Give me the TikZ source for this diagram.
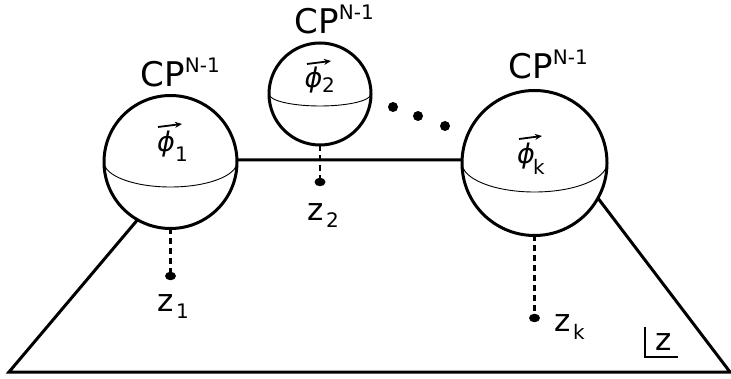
\documentclass[tikz,border=0pt]{standalone}
\usepackage{fontspec}
\setmainfont{DejaVu Sans}
\usetikzlibrary{shapes.geometric,arrows.meta}
\begin{document}
\begin{tikzpicture}[x=1pt,y=-1pt,
  sphere/.style={circle,draw,fill=white,line width=3pt,inner sep=0pt,outer sep=0pt},
  plane/.style={line width=3pt,line join=miter},
  equator/.style={line width=0.9pt},
  drop/.style={line width=2.6pt,dash pattern=on 6pt off 4pt},
  dot/.style={ellipse,fill=black,inner sep=0pt,minimum width=11pt,minimum height=8.5pt},
  edot/.style={circle,fill=black,inner sep=0pt,minimum size=10pt},
  cplabel/.style={anchor=base west,inner sep=0pt,font=\fontsize{34}{34}\selectfont},
  zlabel/.style={anchor=base west,inner sep=0pt,font=\fontsize{31}{31}\selectfont},
  philabel/.style={inner sep=0pt,font=\fontsize{27}{27}\selectfont\itshape},
  sublabel/.style={anchor=base west,inner sep=0pt,font=\fontsize{20}{20}\selectfont},
  vecarrow/.style={line width=1.8pt,-{Stealth[length=7pt,width=6pt]}},
  corner/.style={line width=2.5pt},
]
\useasboundingbox (0,0) rectangle (731,379);
% plane
\coordinate (p1) at (9,372);
\coordinate (p2) at (188,160);
\coordinate (p3) at (569,160);
\coordinate (p4) at (730,372);
\draw[plane] (p1) -- (p2) -- (p3) -- (p4) -- cycle;
% spheres
\node[sphere,minimum size=133pt] (s1) at (170.5,162) {};
\node[sphere,minimum size=102pt] (s2) at (320,94) {};
\node[sphere,minimum size=145pt] (s3) at (534.5,163) {};
\draw[equator] (s1.west) arc[start angle=180,end angle=360,x radius=66.5pt,y radius=25pt];
\draw[equator] (s2.west) arc[start angle=180,end angle=360,x radius=51pt,y radius=12pt];
\draw[equator] (s3.west) arc[start angle=180,end angle=360,x radius=72.5pt,y radius=29pt];
% points on the plane
\node[dot] (d1) at (170.5,276) {};
\node[dot] (d2) at (320,182) {};
\node[dot] (d3) at (534.5,318) {};
\draw[drop] (s1.south) -- (d1.north);
\draw[drop] (s2.south) -- (d2.north);
\draw[drop] (s3.south) -- (d3.north);
% ellipsis
\node[edot] (e1) at (393,107) {};
\node[edot] (e2) at (418,116) {};
\node[edot] (e3) at (445,126) {};
% CP labels
\node[cplabel] (c1) at (140.5,87) {CP\raisebox{14pt}{\fontsize{20}{20}\selectfont N-1}};
\node[cplabel] (c2) at (294.5,34) {CP\raisebox{14pt}{\fontsize{20}{20}\selectfont N-1}};
\node[cplabel] (c3) at (508.5,79) {CP\raisebox{14pt}{\fontsize{20}{20}\selectfont N-1}};
% z labels
\node[zlabel] (z1) at (157,312) {z};
\node[sublabel] (z1s) at (176,319) {1};
\node[zlabel] (z2) at (307,221) {z};
\node[sublabel] (z2s) at (326,228) {2};
\node[zlabel] (zk) at (554,332) {z};
\node[sublabel] (zks) at (573,340) {k};
% phi labels
\node[philabel] (f1) at (166,144) {ϕ};
\node[sublabel] (f1s) at (175,162) {1};
\coordinate (a1s) at (158,127);
\coordinate (a1e) at (182,124);
\draw[vecarrow] (a1s) -- (a1e);
\node[philabel] (f2) at (313.5,80) {ϕ};
\node[sublabel] (f2s) at (322,93) {2};
\coordinate (a2s) at (307,64);
\coordinate (a2e) at (331,61);
\draw[vecarrow] (a2s) -- (a2e);
\node[philabel] (fk) at (526,156) {ϕ};
\node[sublabel] (fks) at (533,175) {k};
\coordinate (aks) at (519,139);
\coordinate (ake) at (542,136);
\draw[vecarrow] (aks) -- (ake);
% corner symbol
\coordinate (q1) at (645,327);
\coordinate (q2) at (645,357);
\coordinate (q3) at (678,357);
\draw[corner] (q1) -- (q2) -- (q3);
\node[zlabel] (zc) at (655.5,350) {z};
\end{tikzpicture}
\end{document}
